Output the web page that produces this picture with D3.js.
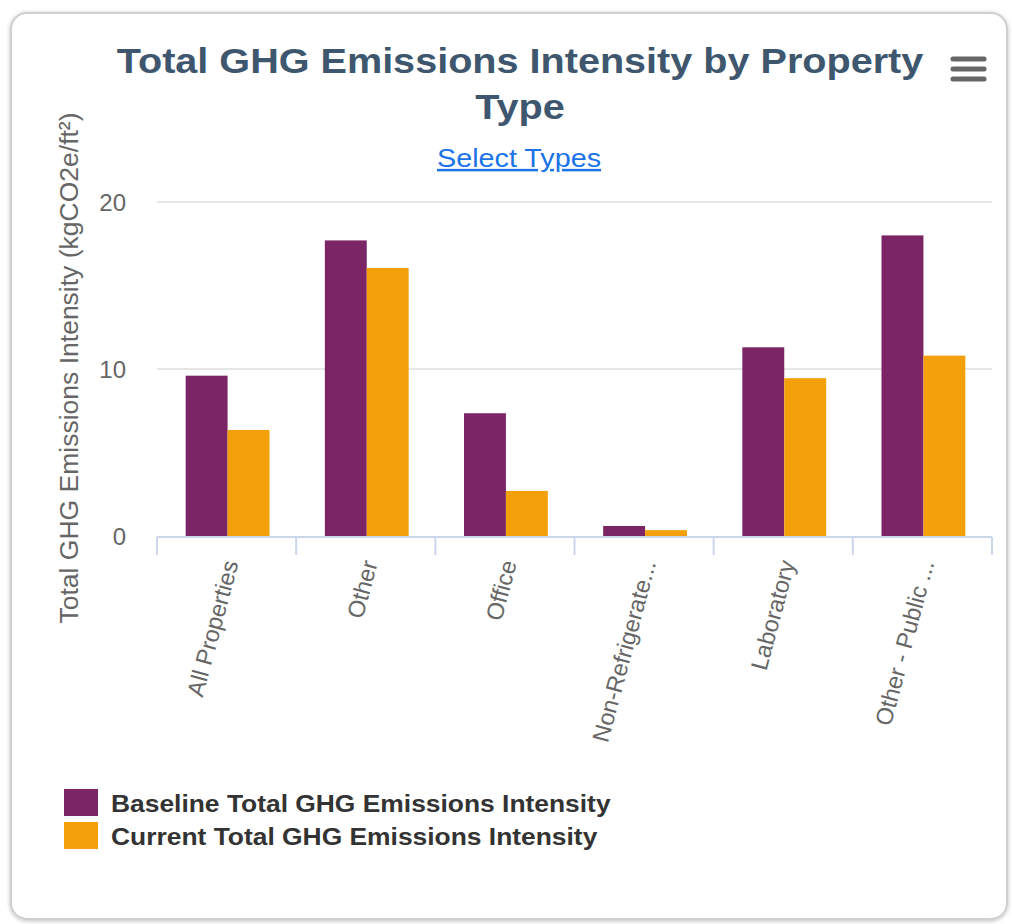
<!DOCTYPE html>
<html>
<head>
<meta charset="utf-8">
<script src="https://cdn.jsdelivr.net/npm/d3@7"></script>
<style>
  html, body { margin: 0; padding: 0; background: #ffffff; }
  svg { display: block; }
  text { font-family: "Liberation Sans", Arial, sans-serif; }
</style>
</head>
<body>
<svg id="chart" width="1012" height="924"></svg>
<script>
// ---- data ----
const categories = ["All Properties", "Other", "Office", "Non-Refrigerate...", "Laboratory", "Other - Public ..."];
const baselineValues = [9.6, 17.7, 7.35, 0.6, 11.3, 18.0];
const currentValues  = [6.35, 16.05, 2.7, 0.35, 9.45, 10.8];
const seriesNames = ["Baseline Total GHG Emissions Intensity", "Current Total GHG Emissions Intensity"];
const seriesColors = ["#7b2566", "#f4a00b"];
const yTicks = [0, 10, 20];
const titleLines = ["Total GHG Emissions Intensity by Property", "Type"];
const subtitleText = "Select Types";
const yAxisTitle = "Total GHG Emissions Intensity (kgCO2e/ft\u00B2)";

const svg = d3.select("#chart");

// card
const defs = svg.append("defs");
const f = defs.append("filter").attr("id", "shadow").attr("x", "-5%").attr("y", "-5%").attr("width", "110%").attr("height", "110%");
f.append("feDropShadow").attr("dx", 0).attr("dy", 1).attr("stdDeviation", 2).attr("flood-color", "#000").attr("flood-opacity", 0.25);
svg.append("rect").attr("x", 11).attr("y", 13).attr("width", 996).attr("height", 906)
  .attr("rx", 16).attr("fill", "#fff").attr("stroke", "#cfcfcf").attr("stroke-width", 2)
  .attr("filter", "url(#shadow)");

// layout
const plot = { left: 157, right: 992, top: 202, bottom: 536 };

const x0 = d3.scaleBand().domain(categories).range([plot.left, plot.right]).paddingInner(0).paddingOuter(0);
const x1 = d3.scaleBand().domain([0, 1]).range([0, x0.bandwidth()]).paddingInner(0).paddingOuter(0.66);
const y = d3.scaleLinear().domain([0, 20]).range([plot.bottom, plot.top]);

// gridlines
svg.append("g").selectAll("line").data(yTicks.filter(d => d !== 0)).join("line")
  .attr("x1", plot.left).attr("x2", plot.right)
  .attr("y1", d => y(d)).attr("y2", d => y(d))
  .attr("stroke", "#e6e6e6").attr("stroke-width", 2);

// bars
const data = categories.map((c, i) => ({ cat: c, vals: [baselineValues[i], currentValues[i]] }));
const groups = svg.append("g").selectAll("g").data(data).join("g")
  .attr("transform", d => `translate(${x0(d.cat) + 1},0)`);
groups.selectAll("rect").data(d => d.vals.map((v, k) => ({ v, k }))).join("rect")
  .attr("x", d => x1(d.k))
  .attr("width", x1.bandwidth())
  .attr("y", d => y(d.v))
  .attr("height", d => y(0) - y(d.v))
  .attr("fill", d => seriesColors[d.k]);

// x axis
const xAxisG = svg.append("g").attr("transform", `translate(0,${plot.bottom + 1})`);
xAxisG.append("line").attr("x1", plot.left).attr("x2", plot.right).attr("y1", 0).attr("y2", 0)
  .attr("stroke", "#ccd6eb").attr("stroke-width", 2);
const tickPos = categories.map(c => x0(c)).concat([x0(categories[categories.length - 1]) + x0.bandwidth()]);
xAxisG.selectAll("line.tick").data(tickPos).join("line").attr("class", "tick")
  .attr("x1", d => d).attr("x2", d => d).attr("y1", 0).attr("y2", 18)
  .attr("stroke", "#ccd6eb").attr("stroke-width", 2);
xAxisG.selectAll("text").data(categories).join("text")
  .attr("transform", d => `translate(${x0(d) + x0.bandwidth() / 2 + 12},${26}) rotate(-75)`)
  .attr("text-anchor", "end")
  .attr("font-size", 23.5)
  .attr("fill", "#666666")
  .text(d => d);

// y axis labels
svg.append("g").selectAll("text").data(yTicks).join("text")
  .attr("x", 126).attr("y", d => y(d) + 9)
  .attr("text-anchor", "end").attr("font-size", 24).attr("fill", "#666666")
  .text(d => d);

// y axis title
svg.append("text")
  .attr("transform", `translate(78,${368}) rotate(-90)`)
  .attr("text-anchor", "middle").attr("font-size", 26.5).attr("fill", "#666666")
  .text(yAxisTitle);

// title (slightly widened glyphs as in the reference)
svg.append("g").selectAll("text").data(titleLines).join("text")
  .attr("transform", (d, i) => `translate(520,${73 + i * 46}) scale(1.1,1)`)
  .attr("text-anchor", "middle").attr("font-size", 36).attr("font-weight", "bold")
  .attr("fill", "#3e576f")
  .text(d => d);

// subtitle link
svg.append("text")
  .attr("transform", "translate(519,167) scale(1.15,1)")
  .attr("text-anchor", "middle").attr("font-size", 25).attr("fill", "#1a73e8")
  .attr("text-decoration", "underline")
  .text(subtitleText);

// hamburger
svg.append("g").selectAll("line").data([0, 1, 2]).join("line")
  .attr("x1", 953).attr("x2", 984).attr("y1", d => 59 + d * 10).attr("y2", d => 59 + d * 10)
  .attr("stroke", "#666666").attr("stroke-width", 5).attr("stroke-linecap", "round");

// legend
const leg = svg.append("g").selectAll("g").data(seriesNames).join("g")
  .attr("transform", (d, i) => `translate(64,${789 + i * 33})`);
leg.append("rect").attr("width", 34).attr("height", 27).attr("fill", (d, i) => seriesColors[i]);
leg.append("text").attr("transform", "translate(47,23) scale(1.1,1)")
  .attr("font-size", 24).attr("font-weight", "bold")
  .attr("fill", "#333333").text(d => d);
</script>
</body>
</html>
